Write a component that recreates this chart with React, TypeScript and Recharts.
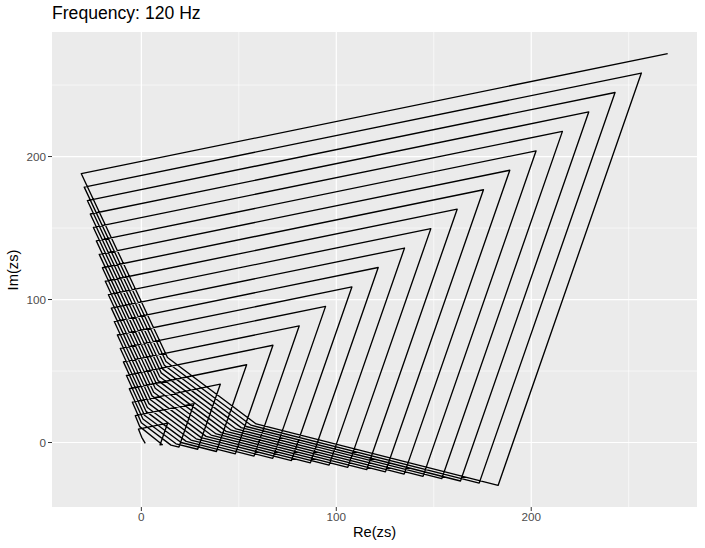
// Winding path of zs at 120 Hz, drawn as a ggplot-style path plot
import { LineChart, Line, XAxis, YAxis, CartesianGrid } from 'recharts'

const FONT = '"Liberation Sans", Arial, Helvetica, sans-serif'

// ---- data (Re, Im) ----
// the path begins just right of the origin and curls up to the first corner
const startRe = [2.0, 0.2]
const startIm = [-0.6, 3.6]

// loops 1..20
const loopIndex = [1, 2, 3, 4, 5, 6, 7, 8, 9, 10, 11, 12, 13, 14, 15, 16, 17, 18, 19, 20]

// top-left corners
const topLeftRe = [-1.5, -3.1, -4.6, -6.2, -7.7, -9.2, -10.8, -12.3, -13.9, -15.4, -16.9, -18.5, -20.0, -21.6, -23.1, -24.6, -26.2, -27.7, -29.3, -30.8]
const topLeftIm = [9.4, 18.8, 28.2, 37.6, 47.0, 56.4, 65.8, 75.2, 84.6, 94.0, 103.4, 112.8, 122.2, 131.6, 141.0, 150.4, 159.8, 169.2, 178.6, 188.0]

// top-right corners
const topRightRe = [13.5, 27.0, 40.5, 54.0, 67.5, 81.0, 94.5, 108.0, 121.5, 135.0, 148.5, 162.0, 175.5, 189.0, 202.5, 216.0, 229.5, 243.0, 256.5, 270.0]
const topRightIm = [13.6, 27.2, 40.8, 54.4, 68.0, 81.6, 95.2, 108.8, 122.4, 136.0, 149.6, 163.2, 176.8, 190.4, 204.0, 217.6, 231.2, 244.8, 258.4, 272.0]

// bottom-right corners (loops 1..19, the last loop stops at its top-right corner)
const bottomRightRe = [9.6, 19.3, 28.9, 38.5, 48.2, 57.8, 67.4, 77.0, 86.7, 96.3, 105.9, 115.6, 125.2, 134.8, 144.5, 154.1, 163.7, 173.3, 183.0]
const bottomRightIm = [-1.6, -3.2, -4.7, -6.3, -7.9, -9.5, -11.1, -12.6, -14.2, -15.8, -17.4, -19.0, -20.5, -22.1, -23.7, -25.3, -26.9, -28.4, -30.0]

// bend where the bottom edge turns into the hatched diagonal (loops 2..20)
const lowBendRe = [10.8, 15.2, 17.8, 20.4, 23.0, 25.5, 28.1, 30.7, 33.2, 35.8, 38.4, 40.9, 43.5, 46.1, 48.6, 51.2, 53.8, 56.3, 58.9]
const lowBendIm = [-1.5, -1.8, -0.9, 0.0, 0.8, 1.7, 2.6, 3.4, 4.3, 5.2, 6.0, 6.9, 7.8, 8.6, 9.5, 10.4, 11.2, 12.1, 13.0]

// bend where the diagonal turns up into the left edge (loops 2..20)
const leftBendRe = [-0.8, 0.0, 0.8, 1.6, 2.4, 3.1, 3.9, 4.7, 5.5, 6.3, 7.1, 7.9, 8.6, 9.4, 10.2, 11.0, 11.8, 12.6, 13.4]
const leftBendIm = [11.1, 13.8, 16.4, 19.1, 21.8, 24.5, 27.2, 29.9, 32.6, 35.2, 37.9, 40.6, 43.3, 46.0, 48.7, 51.3, 54.0, 56.7, 59.4]

// axes
const X_DOMAIN: [number, number] = [-45.84, 285.04]
const Y_DOMAIN: [number, number] = [-45.1, 287.1]
const X_TICKS = [0, 100, 200]
const Y_TICKS = [0, 100, 200]
const X_MINOR = [50, 150, 250]
const Y_MINOR = [50, 150, 250]

type Pt = { x: number; y: number }

function buildPath(): Pt[] {
  const pts: Pt[] = startRe.map((x, i) => ({ x, y: startIm[i] }))
  loopIndex.forEach((_, i) => {
    if (i > 0) {
      pts.push({ x: bottomRightRe[i - 1], y: bottomRightIm[i - 1] })
      pts.push({ x: lowBendRe[i - 1], y: lowBendIm[i - 1] })
      pts.push({ x: leftBendRe[i - 1], y: leftBendIm[i - 1] })
    }
    pts.push({ x: topLeftRe[i], y: topLeftIm[i] })
    pts.push({ x: topRightRe[i], y: topRightIm[i] })
  })
  return pts
}

const pathData = buildPath()

const vLine = (v: number): Pt[] => [{ x: v, y: Y_DOMAIN[0] }, { x: v, y: Y_DOMAIN[1] }]
const hLine = (v: number): Pt[] => [{ x: X_DOMAIN[0], y: v }, { x: X_DOMAIN[1], y: v }]

const tickStyle = { fill: '#4D4D4D', fontSize: 11.7, fontFamily: FONT }

export default function App() {
  return (
    <div style={{ position: 'absolute', left: 0, top: 0, width: 705, height: 548, background: '#fff' }}>
      <LineChart width={705} height={548} margin={{ top: 32, right: 8, left: 0, bottom: 0 }}>
        <CartesianGrid fill="#EBEBEB" horizontal={false} vertical={false} />
        <XAxis
          dataKey="x"
          type="number"
          domain={X_DOMAIN}
          ticks={X_TICKS}
          allowDataOverflow
          height={41}
          axisLine={false}
          tickSize={4}
          tickMargin={2}
          tickLine={{ stroke: '#333333' }}
          tick={tickStyle}
        />
        <YAxis
          dataKey="y"
          type="number"
          domain={Y_DOMAIN}
          ticks={Y_TICKS}
          allowDataOverflow
          width={52}
          axisLine={false}
          tickSize={4}
          tickMargin={2}
          tickLine={{ stroke: '#333333' }}
          tick={tickStyle}
        />
        {X_MINOR.map((v) => (
          <Line key={`xm${v}`} data={vLine(v)} dataKey="y" stroke="#fff" strokeWidth={0.6} dot={false} isAnimationActive={false} />
        ))}
        {Y_MINOR.map((v) => (
          <Line key={`ym${v}`} data={hLine(v)} dataKey="y" stroke="#fff" strokeWidth={0.6} dot={false} isAnimationActive={false} />
        ))}
        {X_TICKS.map((v) => (
          <Line key={`xM${v}`} data={vLine(v)} dataKey="y" stroke="#fff" strokeWidth={1.2} dot={false} isAnimationActive={false} />
        ))}
        {Y_TICKS.map((v) => (
          <Line key={`yM${v}`} data={hLine(v)} dataKey="y" stroke="#fff" strokeWidth={1.2} dot={false} isAnimationActive={false} />
        ))}
        <Line
          data={pathData}
          dataKey="y"
          type="linear"
          stroke="#000"
          strokeWidth={1.35}
          strokeLinejoin="round"
          dot={false}
          isAnimationActive={false}
        />
      </LineChart>
      <div style={{ position: 'absolute', left: 52, top: 3, fontFamily: FONT, fontSize: 17.6, color: '#000' }}>
        Frequency: 120 Hz
      </div>
      <div style={{ position: 'absolute', left: 52, width: 645, top: 524, textAlign: 'center', fontFamily: FONT, fontSize: 14.7, color: '#000' }}>
        Re(zs)
      </div>
      <div
        style={{
          position: 'absolute',
          left: 13,
          top: 269.5,
          transform: 'translate(-50%, -50%) rotate(-90deg)',
          fontFamily: FONT,
          fontSize: 14.7,
          color: '#000',
          whiteSpace: 'nowrap',
        }}
      >
        Im(zs)
      </div>
    </div>
  )
}
